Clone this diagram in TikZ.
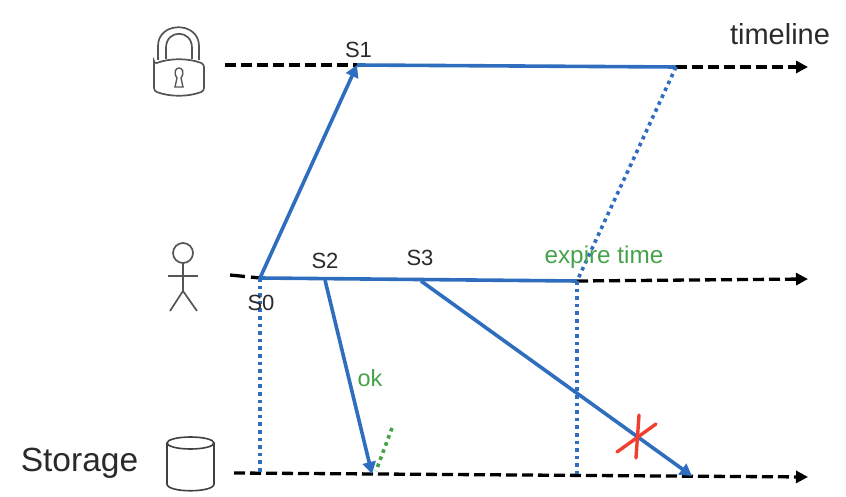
\documentclass[tikz,border=0pt]{standalone}
\usepackage{fontspec}
\setmainfont{Liberation Sans}
\usetikzlibrary{arrows.meta}
\definecolor{lineblue}{HTML}{2F6DBE}
\definecolor{okgreen}{HTML}{45A24A}
\definecolor{crossred}{HTML}{EE4030}
\definecolor{icongray}{HTML}{555555}
\definecolor{inktext}{HTML}{2A2A2A}
\tikzset{
  timedash/.style={black,line width=3.3pt,dash pattern=on 11pt off 5pt},
  timeaxis/.style={timedash,-{Triangle[length=12pt,width=12pt]}},
  bluesolid/.style={lineblue,line width=3.6pt},
  blueto/.style={bluesolid,-{Triangle[length=12pt,width=13pt]}},
  bluedot/.style={lineblue,line width=3.6pt,dash pattern=on 3.6pt off 4pt},
  icon/.style={icongray,line width=1.7pt},
  lab/.style={inner sep=0pt,text=inktext},
  greenlab/.style={inner sep=0pt,text=okgreen},
}
\begin{document}
\begin{tikzpicture}[x=1pt,y=-1pt]
\useasboundingbox (0,0) rectangle (846,497);
% key points
\coordinate (lockstart) at (225,65);
\coordinate (s1) at (357,65);
\coordinate (lockend) at (676,67);
\coordinate (lockaxis) at (808,67);
\coordinate (clientstart) at (230,275);
\coordinate (s0) at (260,278);
\coordinate (s2) at (325,280);
\coordinate (s3) at (421,281);
\coordinate (expire) at (577,281);
\coordinate (clientaxis) at (808,279);
\coordinate (storestart) at (234,473);
\coordinate (storeaxis) at (808,477);
\coordinate (s0down) at (260,474);
\coordinate (expiredown) at (577,474);
\coordinate (okhit) at (372,474);
\coordinate (latehit) at (692,476);
\coordinate (tickstart) at (392,428);
\coordinate (tickend) at (376,471);
\coordinate (xa) at (639,415);
\coordinate (xb) at (636,458);
\coordinate (xc) at (656,424);
\coordinate (xd) at (617,452);
% timelines
\draw[timedash] (lockstart) -- (s1);
\draw[timeaxis] (lockend) -- (lockaxis);
\draw[timedash,dash pattern=on 15pt off 6pt] (clientstart) -- (s0);
\draw[timeaxis] (expire) -- (clientaxis);
\draw[timeaxis] (storestart) -- (storeaxis);
% dotted
\draw[bluedot] (lockend) -- (expire);
\draw[bluedot] (s0) -- (s0down);
\draw[bluedot] (expire) -- (expiredown);
\draw[okgreen,line width=3.6pt,dash pattern=on 3.6pt off 4pt] (tickstart) -- (tickend);
% blue
\draw[blueto] (s0) -- (s1);
\draw[bluesolid] (s1) -- (lockend);
\draw[bluesolid] (s0) -- (expire);
\draw[blueto] (s2) -- (okhit);
\draw[blueto] (s3) -- (latehit);
% red cross
\draw[crossred,line width=3.4pt,line cap=round] (xa) -- (xb);
\draw[crossred,line width=3.4pt,line cap=round] (xc) -- (xd);
% lock
\draw[icon,rounded corners=3pt] (154,64) -- (154,91) .. controls (170,97) and (188,97) .. (204,91) -- (204,64) .. controls (188,58) and (170,58) .. cycle;
\draw[icon] (158,60) -- (158,46) .. controls (158,21) and (199,21) .. (199,46) -- (199,60);
\draw[icon] (166,59) -- (166,48) .. controls (166,29) and (192,29) .. (192,48) -- (192,59);
\draw[icon,line width=1.4pt] (177,78) .. controls (173,72) and (176,68) .. (179,68) .. controls (182,68) and (185,72) .. (181,78) -- (183,87) -- (175,87) -- cycle;
% person
\draw[icon] (183,253) circle[radius=10];
\draw[icon] (183,263) -- (183,291);
\draw[icon] (168,276) -- (198,276);
\draw[icon] (170,311) -- (183,291) -- (197,311);
% cylinder
\draw[fill=white,line width=1.6pt,draw=black!75] (167,443) -- (167,484) .. controls (167,493) and (214,493) .. (214,484) -- (214,443);
\draw[line width=1.6pt,draw=black!75] (190.5,443) ellipse[x radius=23.5,y radius=6];
% labels
\node[lab,font=\fontsize{29}{32}\selectfont] (timeline) at (780,34) {timeline};
\node[lab,font=\fontsize{22}{24}\selectfont] (ls1) at (358.5,50) {S1};
\node[lab,font=\fontsize{22}{24}\selectfont] (ls0) at (261,303) {S0};
\node[lab,font=\fontsize{22}{24}\selectfont] (ls2) at (325,261) {S2};
\node[lab,font=\fontsize{22}{24}\selectfont] (ls3) at (420,258) {S3};
\node[greenlab,font=\fontsize{24.3}{26}\selectfont] (lexp) at (604,257) {expire time};
\node[greenlab,font=\fontsize{23.5}{26}\selectfont] (lok) at (370,378) {ok};
\node[lab,font=\fontsize{33.5}{38}\selectfont] (lstore) at (79.5,463) {Storage};
\end{tikzpicture}
\end{document}
